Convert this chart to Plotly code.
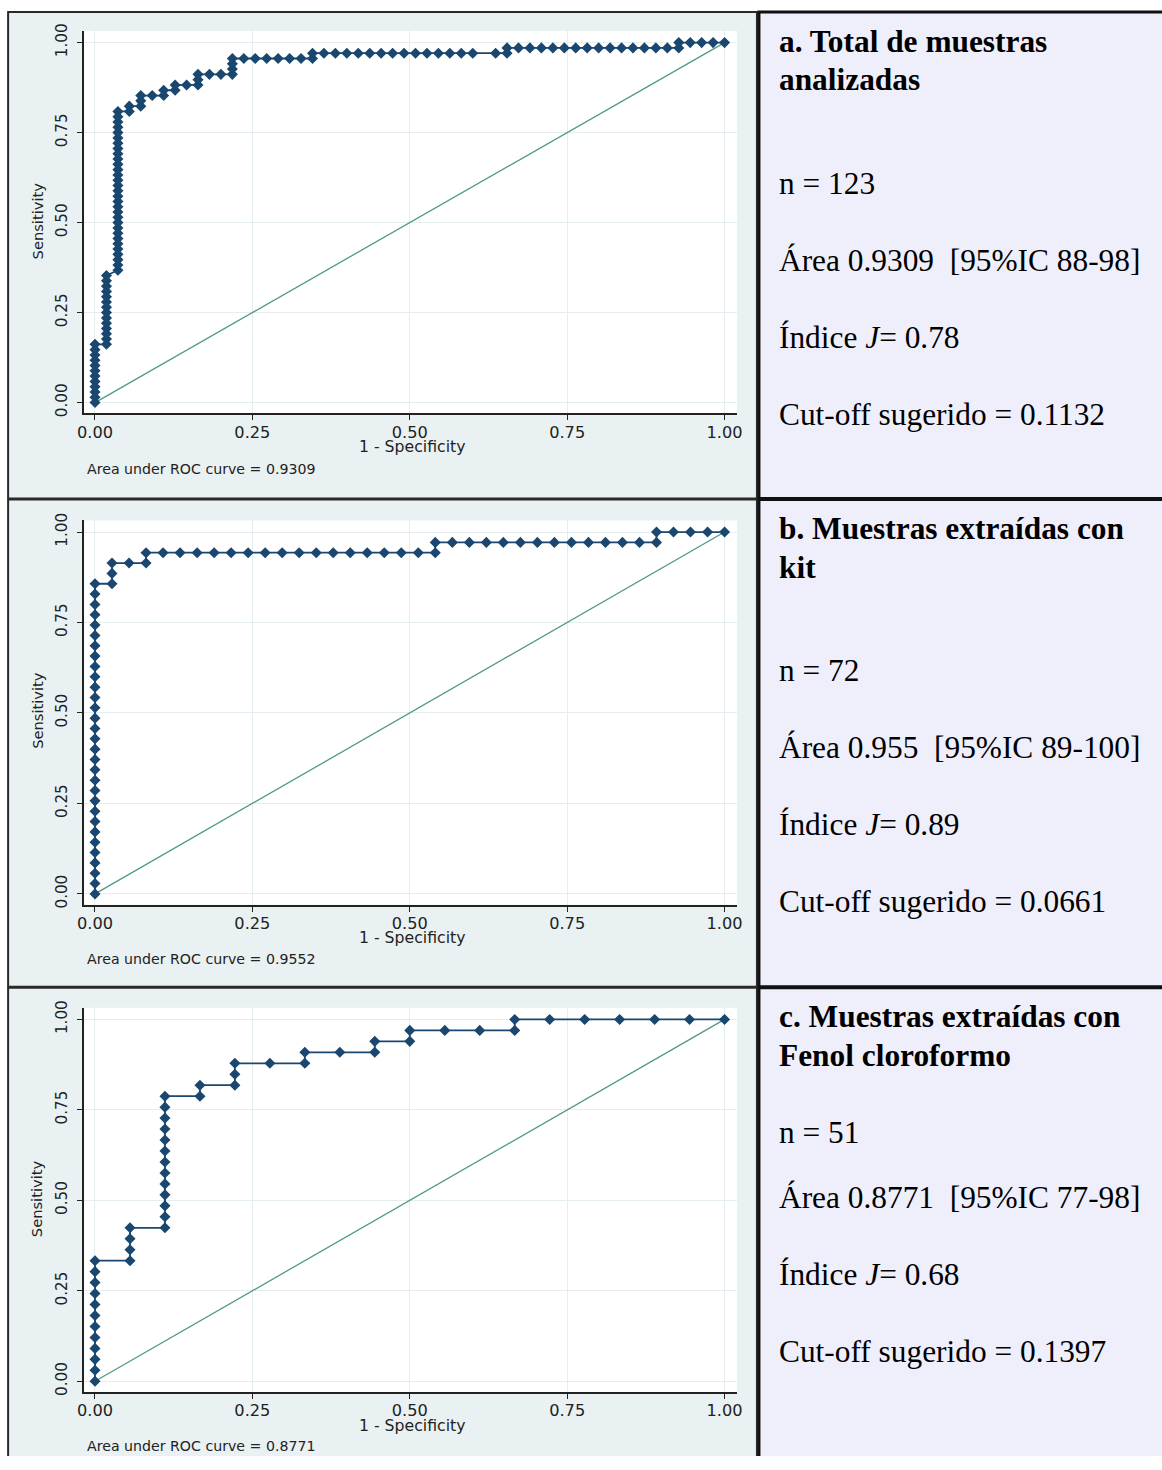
import plotly.graph_objects as go

# Figure size in CSS px. The page is photographed with the body's 8px margin and then
# fitted to 1162x1470, so positions below are given in final picture pixels and mapped back.
FW, FH = 1162, 1456
BODY = 8
SX, SY = 0.9864, 0.991   # measured fit factors of the photographed page
FS = 1.012               # font compensation for that fit

# ---------------- data ----------------
tick_vals = [0, 0.25, 0.5, 0.75, 1]
tick_text = ["0.00", "0.25", "0.50", "0.75", "1.00"]
ref_line = [0, 1]

# a. Total de muestras analizadas (n = 123)
fpr_a = [0, 0, 0, 0, 0, 0, 0, 0, 0, 0, 0, 0,
         .0182, .0182, .0182, .0182, .0182, .0182, .0182, .0182, .0182, .0182, .0182, .0182, .0182, .0182,
         .0364, .0364, .0364, .0364, .0364, .0364, .0364, .0364, .0364, .0364, .0364, .0364, .0364, .0364,
         .0364, .0364, .0364, .0364, .0364, .0364, .0364, .0364, .0364, .0364, .0364, .0364, .0364, .0364,
         .0364, .0364, .0364,
         .0545, .0545, .0727, .0727, .0727, .0909, .1091, .1091, .1273, .1273, .1455,
         .1636, .1636, .1636, .1818, .2, .2182, .2182, .2182, .2182,
         .2364, .2545, .2727, .2909, .3091, .3273, .3455, .3455,
         .3636, .3818, .4, .4182, .4364, .4545, .4727, .4909, .5091, .5273, .5455, .5636, .5818, .6,
         .6364, .6545, .6545,
         .6727, .6909, .7091, .7273, .7455, .7636, .7818, .8, .8182, .8364, .8545, .8727, .8909, .9091,
         .9273, .9273, .9455, .9636, .9818, 1]
tpr_a = [0, .0147, .0294, .0441, .0588, .0735, .0882, .1029, .1176, .1324, .1471, .1618,
         .1618, .1765, .1912, .2059, .2206, .2353, .25, .2647, .2794, .2941, .3088, .3235, .3382, .3529,
         .3676, .3824, .3971, .4118, .4265, .4412, .4559, .4706, .4853, .5, .5147, .5294, .5441, .5588,
         .5735, .5882, .6029, .6176, .6324, .6471, .6618, .6765, .6912, .7059, .7206, .7353, .75, .7647,
         .7794, .7941, .8088,
         .8088, .8235, .8235, .8382, .8529, .8529, .8529, .8676, .8676, .8824, .8824,
         .8824, .8971, .9118, .9118, .9118, .9118, .9265, .9412, .9559,
         .9559, .9559, .9559, .9559, .9559, .9559, .9559, .9706,
         .9706, .9706, .9706, .9706, .9706, .9706, .9706, .9706, .9706, .9706, .9706, .9706, .9706, .9706,
         .9706, .9706, .9853,
         .9853, .9853, .9853, .9853, .9853, .9853, .9853, .9853, .9853, .9853, .9853, .9853, .9853, .9853,
         .9853, 1, 1, 1, 1, 1]

# b. Muestras extraidas con kit (n = 72)
fpr_b = [0, 0, 0, 0, 0, 0, 0, 0, 0, 0, 0, 0, 0, 0, 0, 0, 0, 0, 0, 0, 0, 0, 0, 0, 0, 0, 0, 0, 0, 0, 0,
         .027, .027, .027, .0541, .0811, .0811,
         .1081, .1351, .1622, .1892, .2162, .2432, .2703, .2973, .3243, .3514, .3784, .4054, .4324,
         .4595, .4865, .5135, .5405, .5405,
         .5676, .5946, .6216, .6486, .6757, .7027, .7297, .7568, .7838, .8108, .8378, .8649,
         .8919, .8919, .9189, .9459, .973, 1]
tpr_b = [0, .0286, .0571, .0857, .1143, .1429, .1714, .2, .2286, .2571, .2857, .3143, .3429, .3714,
         .4, .4286, .4571, .4857, .5143, .5429, .5714, .6, .6286, .6571, .6857, .7143, .7429, .7714,
         .8, .8286, .8571,
         .8571, .8857, .9143, .9143, .9143, .9429,
         .9429, .9429, .9429, .9429, .9429, .9429, .9429, .9429, .9429, .9429, .9429, .9429, .9429,
         .9429, .9429, .9429, .9429, .9714,
         .9714, .9714, .9714, .9714, .9714, .9714, .9714, .9714, .9714, .9714, .9714, .9714,
         .9714, 1, 1, 1, 1, 1]

# c. Muestras extraidas con Fenol cloroformo (n = 51)
fpr_c = [0, 0, 0, 0, 0, 0, 0, 0, 0, 0, 0, 0,
         .0556, .0556, .0556, .0556,
         .1111, .1111, .1111, .1111, .1111, .1111, .1111, .1111, .1111, .1111, .1111, .1111, .1111,
         .1667, .1667, .2222, .2222, .2222, .2778, .3333, .3333, .3889, .4444, .4444, .5, .5,
         .5556, .6111, .6667, .6667, .7222, .7778, .8333, .8889, .9444, 1]
tpr_c = [0, .0303, .0606, .0909, .1212, .1515, .1818, .2121, .2424, .2727, .3030, .3333,
         .3333, .3636, .3939, .4242,
         .4242, .4545, .4848, .5152, .5455, .5758, .6061, .6364, .6667, .6970, .7273, .7576, .7879,
         .7879, .8182, .8182, .8485, .8788, .8788, .8788, .9091, .9091, .9091, .9394, .9394, .9697,
         .9697, .9697, .9697, 1, 1, 1, 1, 1, 1, 1]

auc_notes = ["Area under ROC curve = 0.9309",
             "Area under ROC curve = 0.9552",
             "Area under ROC curve = 0.8771"]

panel_text = [
    ["<b>a. Total de muestras</b>", "<b>analizadas</b>", "n = 123",
     "Área 0.9309\u00a0 [95%IC 88-98]", "Índice <i>J</i>= 0.78", "Cut-off sugerido = 0.1132"],
    ["<b>b. Muestras extraídas con</b>", "<b>kit</b>", "n = 72",
     "Área 0.955\u00a0 [95%IC 89-100]", "Índice <i>J</i>= 0.89", "Cut-off sugerido = 0.0661"],
    ["<b>c. Muestras extraídas con</b>", "<b>Fenol cloroformo</b>", "n = 51",
     "Área 0.8771\u00a0 [95%IC 77-98]", "Índice <i>J</i>= 0.68", "Cut-off sugerido = 0.1397"],
]

# ---------------- layout geometry (picture pixels) ----------------
row_tops = [12, 499, 987]
row_bots = [498, 986, 1500]
plot_px = [(31, 413), (520, 904), (1007, 1391)]   # (top, bottom) of white plot area
plot_x = (85, 736)
xtitle_y = [446, 937, 1424]
ytitle_y = [221, 710, 1198]
note_y = [468.5, 958.5, 1445]
text_y = [[41, 79, 183, 260, 337, 414],
          [528, 567, 670, 747, 824, 901],
          [1016, 1055, 1132, 1197, 1273, 1350]]

NAVY = "#1a476f"
REF = "#4f9a86"
LEFT_BG = "#E9F1F2"
RIGHT_BG = "#EFEFFC"
GRID = "#E4EDEF"
AX = "#222222"

def pxx(p):
    return (p / SX - BODY) / FW

def py(p):
    return 1 - (p / SY - BODY) / FH

def fs(s):
    return round(s * FS, 2)

fig = go.Figure()
series = [(fpr_a, tpr_a), (fpr_b, tpr_b), (fpr_c, tpr_c)]
shapes = []
annotations = []

for i, (fpr, tpr) in enumerate(series):
    sfx = "" if i == 0 else str(i + 1)
    xa, ya = "x" + sfx, "y" + sfx
    fig.add_trace(go.Scatter(x=ref_line, y=ref_line, mode="lines",
                             line=dict(color=REF, width=1.3),
                             xaxis=xa, yaxis=ya, hoverinfo="skip", showlegend=False))
    fig.add_trace(go.Scatter(x=fpr, y=tpr, mode="lines+markers",
                             line=dict(color=NAVY, width=1.8),
                             marker=dict(symbol="diamond", size=8.5, color=NAVY),
                             xaxis=xa, yaxis=ya, showlegend=False))
    top, bot = plot_px[i]
    axis_common = dict(showline=True, linecolor=AX, linewidth=1.8, ticks="outside",
                       ticklen=5, tickwidth=1.3, tickcolor=AX, showgrid=True,
                       gridcolor=GRID, gridwidth=1, zeroline=False,
                       tickvals=tick_vals, ticktext=tick_text, mirror=False)
    fig.layout["xaxis" + sfx] = dict(axis_common, domain=[pxx(plot_x[0]), pxx(plot_x[1])],
                                     range=[-0.017, 1.0196], anchor=ya,
                                     tickfont=dict(family="DejaVu Sans", size=fs(16), color=AX),
                                     ticklabelstandoff=-2)
    fig.layout["yaxis" + sfx] = dict(axis_common, domain=[py(bot), py(top)],
                                     range=[-0.03, 1.032], anchor=xa, tickangle=-90,
                                     tickfont=dict(family="DejaVu Sans", size=fs(15), color=AX),
                                     ticklabelstandoff=4)

    # backgrounds
    shapes.append(dict(type="rect", xref="paper", yref="paper", layer="below",
                       x0=pxx(9), x1=pxx(756), y0=py(row_bots[i]), y1=py(row_tops[i]),
                       fillcolor=LEFT_BG, line=dict(width=0)))
    shapes.append(dict(type="rect", xref="paper", yref="paper", layer="below",
                       x0=pxx(plot_x[0]), x1=pxx(plot_x[1]), y0=py(bot), y1=py(top),
                       fillcolor="white", line=dict(width=0)))
    shapes.append(dict(type="rect", xref="paper", yref="paper", layer="below",
                       x0=pxx(757), x1=pxx(1190), y0=py(row_bots[i]), y1=py(row_tops[i]),
                       fillcolor=RIGHT_BG, line=dict(width=0)))
    # borders
    shapes.append(dict(type="rect", xref="paper", yref="paper", layer="above",
                       x0=pxx(9), x1=pxx(756), y0=py(row_bots[i]), y1=py(row_tops[i]),
                       fillcolor="rgba(0,0,0,0)", line=dict(color="#2a2a2a", width=2)))
    shapes.append(dict(type="rect", xref="paper", yref="paper", layer="above",
                       x0=pxx(758), x1=pxx(1190), y0=py(row_bots[i]), y1=py(row_tops[i]),
                       fillcolor="rgba(0,0,0,0)", line=dict(color="#111111", width=3)))

    # axis titles and notes
    annotations.append(dict(text="1 - Specificity", xref="paper", yref="paper",
                            x=pxx(412), y=py(xtitle_y[i]), xanchor="center", yanchor="middle",
                            showarrow=False, font=dict(family="DejaVu Sans", size=fs(15.5), color=AX)))
    annotations.append(dict(text="Sensitivity", xref="paper", yref="paper", textangle=-90,
                            x=pxx(38), y=py(ytitle_y[i]), xanchor="center", yanchor="middle",
                            showarrow=False, font=dict(family="DejaVu Sans", size=fs(14.5), color=AX)))
    annotations.append(dict(text=auc_notes[i], xref="paper", yref="paper",
                            x=pxx(86), y=py(note_y[i]), xanchor="left", yanchor="middle",
                            showarrow=False, font=dict(family="DejaVu Sans", size=fs(14), color=AX)))
    # right panel text
    for j, t in enumerate(panel_text[i]):
        annotations.append(dict(text=t, xref="paper", yref="paper",
                                x=pxx(776), y=py(text_y[i][j]), xanchor="left", yanchor="middle",
                                showarrow=False,
                                font=dict(family="Liberation Serif", size=fs(31), color="black")))

fig.update_layout(width=FW, height=FH, autosize=False,
                  margin=dict(l=0, r=0, t=0, b=0, pad=0),
                  paper_bgcolor="white", plot_bgcolor="white",
                  shapes=shapes, annotations=annotations, showlegend=False)

fig.write_html("out.html")
